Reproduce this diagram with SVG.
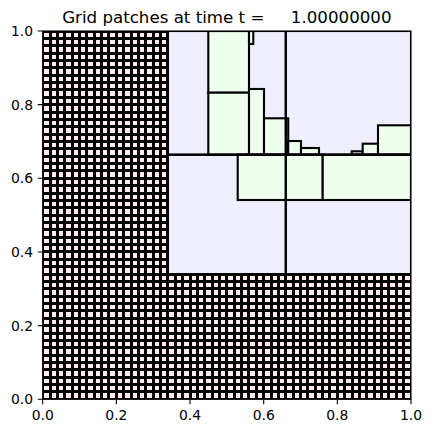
<svg xmlns="http://www.w3.org/2000/svg" width="432" height="433" viewBox="0 0 432 433">
<style>
  .txt{font-family:"DejaVu Sans","Liberation Sans",sans-serif;fill:#000}
  .tick{font-size:13.9px}
  .title{font-size:16.67px;white-space:pre}
  .lvl1{fill:#eeeeff}
  .lvl2{fill:#eeffee;stroke:#000;stroke-width:2.1}
  .edge{fill:none;stroke:#000;stroke-width:2.1}
  .grid{fill:none;stroke:#000;stroke-width:3;shape-rendering:crispEdges}
  .tk{stroke:#000;stroke-width:1.1}
</style>
<defs>
  <clipPath id="ax"><rect x="42.7" y="31" width="368.3" height="368.3"/></clipPath>
</defs>
<rect width="432" height="433" fill="#fff"/>
<g id="plot" clip-path="url(#ax)">
  <g id="level0-fill">
    <path d="M42.7 31H167.92V274.08H411V399.3H42.7Z" fill="#ffecec"/>
  </g>
  <g id="level1-fill">
    <rect class="lvl1" x="167.92" y="31" width="243.08" height="243.08"/>
  </g>
  <g id="level2">
    <rect class="lvl2" x="208.3" y="31" width="40.7" height="61.7"/>
    <rect class="lvl2" x="208.3" y="92.7" width="40.7" height="62"/>
    <rect class="lvl2" x="249" y="31" width="4.3" height="13"/>
    <rect class="lvl2" x="249" y="89" width="15" height="65.7"/>
    <rect class="lvl2" x="264" y="118.3" width="24.2" height="36.4"/>
    <rect class="lvl2" x="288.2" y="141" width="12.8" height="13.7"/>
    <rect class="lvl2" x="301" y="148" width="18" height="6.7"/>
    <rect class="lvl2" x="351.7" y="151.3" width="11" height="3.4"/>
    <rect class="lvl2" x="362.7" y="143.7" width="15.3" height="11"/>
    <rect class="lvl2" x="378" y="125.3" width="33" height="29.4"/>
    <rect class="lvl2" x="237.7" y="154.7" width="85" height="45.3"/>
    <rect class="lvl2" x="322.7" y="154.7" width="88.3" height="45.3"/>
  </g>
  <g id="level1-edges">
    <rect class="edge" x="167.92" y="31" width="117.86" height="123.7"/>
    <rect class="edge" x="285.78" y="31" width="125.22" height="123.7"/>
    <rect class="edge" x="167.92" y="154.7" width="117.86" height="119.38"/>
    <rect class="edge" x="285.78" y="154.7" width="125.22" height="119.38"/>
  </g>
  <g id="level0-grid">
    <path class="grid" d="M42.7 31V399.3M50.066 31V399.3M57.432 31V399.3M64.798 31V399.3M72.164 31V399.3M79.53 31V399.3M86.896 31V399.3M94.262 31V399.3M101.628 31V399.3M108.994 31V399.3M116.36 31V399.3M123.726 31V399.3M131.092 31V399.3M138.458 31V399.3M145.824 31V399.3M153.19 31V399.3M160.556 31V399.3M167.922 31V399.3
M175.288 274.08V399.3M182.654 274.08V399.3M190.02 274.08V399.3M197.386 274.08V399.3M204.752 274.08V399.3M212.118 274.08V399.3M219.484 274.08V399.3M226.85 274.08V399.3M234.216 274.08V399.3M241.582 274.08V399.3M248.948 274.08V399.3M256.314 274.08V399.3M263.68 274.08V399.3M271.046 274.08V399.3M278.412 274.08V399.3M285.778 274.08V399.3M293.144 274.08V399.3M300.51 274.08V399.3M307.876 274.08V399.3M315.242 274.08V399.3M322.608 274.08V399.3M329.974 274.08V399.3M337.34 274.08V399.3M344.706 274.08V399.3M352.072 274.08V399.3M359.438 274.08V399.3M366.804 274.08V399.3M374.17 274.08V399.3M381.536 274.08V399.3M388.902 274.08V399.3M396.268 274.08V399.3M403.634 274.08V399.3M411 274.08V399.3
M42.7 399.3H411M42.7 391.934H411M42.7 384.568H411M42.7 377.202H411M42.7 369.836H411M42.7 362.47H411M42.7 355.104H411M42.7 347.738H411M42.7 340.372H411M42.7 333.006H411M42.7 325.64H411M42.7 318.274H411M42.7 310.908H411M42.7 303.542H411M42.7 296.176H411M42.7 288.81H411M42.7 281.444H411M42.7 274.078H411
M42.7 266.712H167.92M42.7 259.346H167.92M42.7 251.98H167.92M42.7 244.614H167.92M42.7 237.248H167.92M42.7 229.882H167.92M42.7 222.516H167.92M42.7 215.15H167.92M42.7 207.784H167.92M42.7 200.418H167.92M42.7 193.052H167.92M42.7 185.686H167.92M42.7 178.32H167.92M42.7 170.954H167.92M42.7 163.588H167.92M42.7 156.222H167.92M42.7 148.856H167.92M42.7 141.49H167.92M42.7 134.124H167.92M42.7 126.758H167.92M42.7 119.392H167.92M42.7 112.026H167.92M42.7 104.66H167.92M42.7 97.294H167.92M42.7 89.928H167.92M42.7 82.562H167.92M42.7 75.196H167.92M42.7 67.83H167.92M42.7 60.464H167.92M42.7 53.098H167.92M42.7 45.732H167.92M42.7 38.366H167.92M42.7 31H167.92"/>
  </g>
</g>
<g id="axes">
  <rect x="42.7" y="31" width="368.3" height="368.3" fill="none" stroke="#000" stroke-width="1.1"/>
  <path class="tk" d="M42.7 399.3V404.2M116.36 399.3V404.2M190.02 399.3V404.2M263.68 399.3V404.2M337.34 399.3V404.2M411 399.3V404.2M42.7 399.3H37.8M42.7 325.64H37.8M42.7 251.98H37.8M42.7 178.32H37.8M42.7 104.66H37.8M42.7 31H37.8"/>
  <g class="txt tick" text-anchor="middle">
    <text x="42.7" y="420.3">0.0</text>
    <text x="116.36" y="420.3">0.2</text>
    <text x="190.02" y="420.3">0.4</text>
    <text x="263.68" y="420.3">0.6</text>
    <text x="337.34" y="420.3">0.8</text>
    <text x="411" y="420.3">1.0</text>
  </g>
  <g class="txt tick" text-anchor="end">
    <text x="33" y="404.3">0.0</text>
    <text x="33" y="330.6">0.2</text>
    <text x="33" y="257">0.4</text>
    <text x="33" y="183.3">0.6</text>
    <text x="33" y="109.7">0.8</text>
    <text x="33" y="36">1.0</text>
  </g>
  <text class="txt title" x="226.85" y="23" text-anchor="middle" xml:space="preserve">Grid patches at time t =     1.00000000</text>
</g>
</svg>
